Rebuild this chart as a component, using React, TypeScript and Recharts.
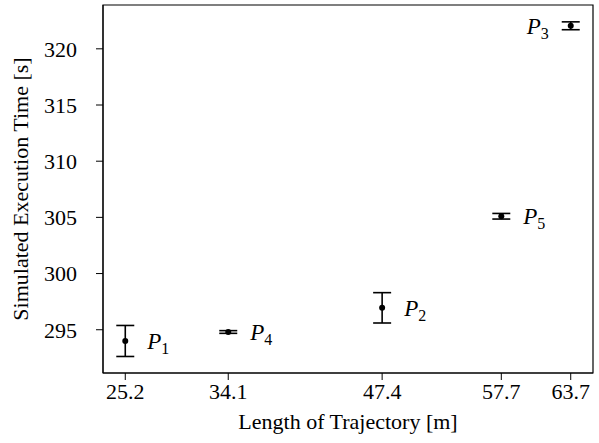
import {
  ScatterChart,
  Scatter,
  XAxis,
  YAxis,
  ErrorBar,
  ReferenceArea,
} from "recharts";

const FONT = "'Liberation Serif', 'Times New Roman', serif";

// path names, trajectory lengths [m], execution times [s], error (+/-)
const pathSubs = ["1", "4", "2", "5", "3"];
const lengths = [25.2, 34.1, 47.4, 57.7, 63.7];
const times = [294.0, 294.8, 296.95, 305.1, 322.05];
const errors = [1.38, 0.12, 1.35, 0.25, 0.35];
const labelSide = ["right", "right", "right", "right", "left"];

const xTicks = [25.2, 34.1, 47.4, 57.7, 63.7];
const yTicks = [295, 300, 305, 310, 315, 320];

const X_DOMAIN: [number, number] = [23.275, 65.625];
const Y_DOMAIN: [number, number] = [291.15, 323.9];

const data = lengths.map((x, i) => ({
  x,
  y: times[i],
  err: errors[i],
  sub: pathSubs[i],
  side: labelSide[i],
}));

const PointShape = (props: any) => {
  const { cx, cy, payload } = props;
  const left = payload.side === "left";
  return (
    <g>
      <circle cx={cx} cy={cy} r={3} fill="#000" />
      <text
        x={left ? cx - 22 : cx + 22}
        y={cy + 8}
        textAnchor={left ? "end" : "start"}
        fontFamily={FONT}
        fontSize={23}
        fill="#000"
      >
        <tspan fontStyle="italic">P</tspan>
        <tspan fontSize={16} dy={5}>
          {payload.sub}
        </tspan>
      </text>
    </g>
  );
};

export default function App() {
  return (
    <div style={{ position: "absolute", left: 0, top: 0 }}>
      <ScatterChart
        width={599}
        height={443}
        margin={{ top: 5, right: 6, bottom: 0, left: 0 }}
      >
        <XAxis
          type="number"
          dataKey="x"
          domain={X_DOMAIN}
          ticks={xTicks}
          allowDataOverflow
          height={70}
          tickSize={7}
          tickMargin={3}
          tickLine={{ stroke: "#000" }}
          axisLine={{ stroke: "#000" }}
          tick={{ fill: "#000", fontFamily: FONT, fontSize: 22 }}
          label={{
            value: "Length of Trajectory [m]",
            position: "insideBottom",
            offset: 14,
            fill: "#000",
            fontFamily: FONT,
            fontSize: 22,
          }}
        />
        <YAxis
          type="number"
          dataKey="y"
          domain={Y_DOMAIN}
          ticks={yTicks}
          allowDataOverflow
          width={103}
          tickSize={7}
          tickMargin={19}
          tickLine={{ stroke: "#000" }}
          axisLine={{ stroke: "#000" }}
          tick={{ fill: "#000", fontFamily: FONT, fontSize: 22 }}
          label={{
            value: "Simulated Execution Time [s]",
            angle: -90,
            position: "insideLeft",
            offset: 20,
            fill: "#000",
            fontFamily: FONT,
            fontSize: 22,
            style: { textAnchor: "middle" },
          }}
        />
        <ReferenceArea
          x1={X_DOMAIN[0]}
          x2={X_DOMAIN[1]}
          y1={Y_DOMAIN[0]}
          y2={Y_DOMAIN[1]}
          fill="none"
          stroke="#000"
          strokeWidth={1.2}
        />
        <Scatter data={data} shape={PointShape} isAnimationActive={false}>
          <ErrorBar
            dataKey="err"
            direction="y"
            width={9}
            stroke="#000"
            strokeWidth={1.6}
          />
        </Scatter>
      </ScatterChart>
    </div>
  );
}
